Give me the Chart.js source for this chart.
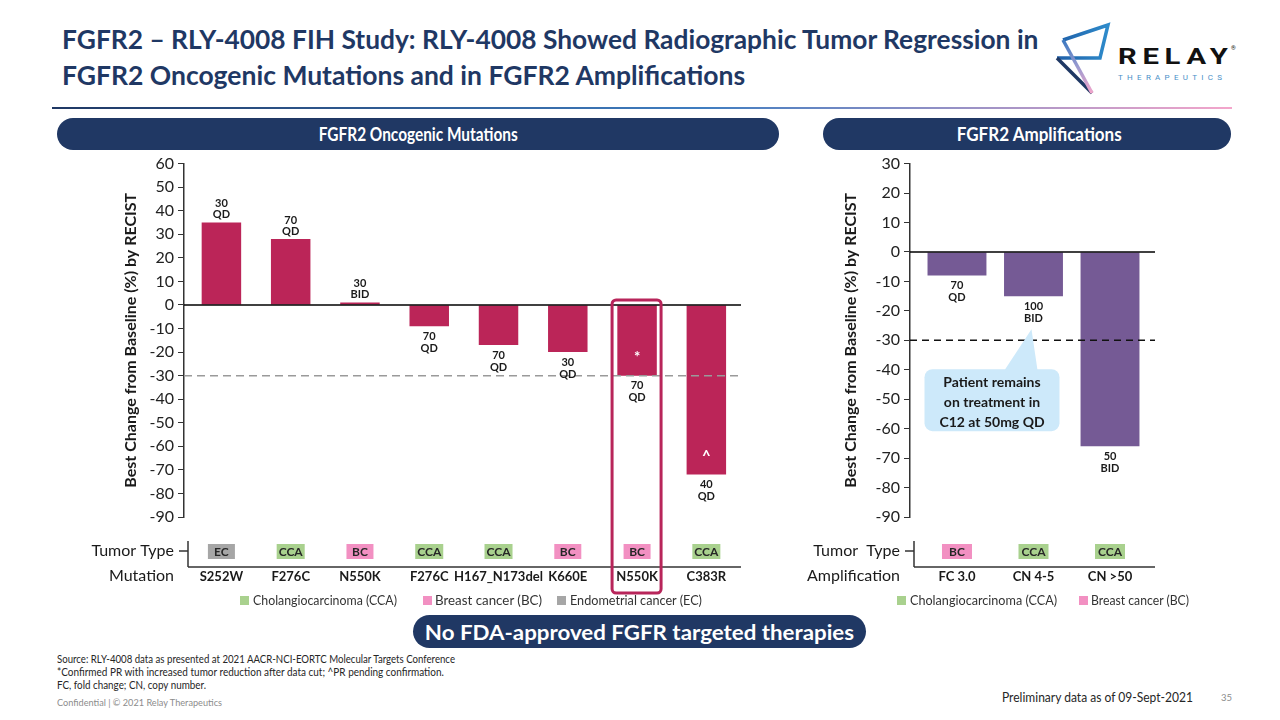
<!DOCTYPE html>
<html>
<head>
<meta charset="utf-8">
<script src="https://cdn.jsdelivr.net/npm/chart.js@4.4.1/dist/chart.umd.min.js"></script>
<style>
  body { margin: 0; width: 1280px; height: 720px; position: relative; overflow: hidden; background: #fff; font-family: Lato, "Open Sans", sans-serif; }
  .t { position: absolute; white-space: nowrap; transform-origin: 0 50%; }
  .title { left: 62px; font-size: 27px; font-weight: 700; color: #1F3864; }
  .pill { position: absolute; background: #203864; border-radius: 17px; color: #fff; font-weight: 700; display: flex; align-items: center; justify-content: center; }
  .pill span { display: inline-block; white-space: nowrap; transform-origin: 50% 50%; }
  .sq { position: absolute; width: 9px; height: 9px; }
  .leg { font-size: 14px; color: #333; }
  .src { left: 57px; font-size: 10.5px; color: #262626; }
  canvas { position: absolute; }
</style>
</head>
<body>
<div class="t title" style="top:22px" data-w="976">FGFR2 – RLY-4008 FIH Study: RLY-4008 Showed Radiographic Tumor Regression in</div>
<div class="t title" style="top:58px" data-w="683">FGFR2 Oncogenic Mutations and in FGFR2 Amplifications</div>

<svg style="position:absolute;left:0;top:0" width="1280" height="110">
  <defs>
    <linearGradient id="gb" x1="0" y1="0" x2="1" y2="0"><stop offset="0" stop-color="#1F5FA8"/><stop offset="1" stop-color="#2E8BCB"/></linearGradient>
    <linearGradient id="gp" x1="0" y1="0" x2="0" y2="1"><stop offset="0" stop-color="#3A78C0"/><stop offset="0.5" stop-color="#9A9AD0"/><stop offset="1" stop-color="#F3A5CB"/></linearGradient>
    <linearGradient id="gl" x1="0" y1="0" x2="1" y2="0"><stop offset="0" stop-color="#1F3864"/><stop offset="0.55" stop-color="#3F7DC0"/><stop offset="1" stop-color="#F4A6CB"/></linearGradient>
  </defs>
  <polyline points="1063,40 1108,25 1100,58 1057,58" fill="none" stroke="url(#gb)" stroke-width="3.5" stroke-linejoin="miter"/>
  <line x1="1057" y1="58" x2="1092" y2="93" stroke="#1F3864" stroke-width="3.5"/>
  <line x1="1063" y1="40" x2="1092" y2="93" stroke="url(#gp)" stroke-width="3.5"/>
  <text transform="translate(1118,63.5) scale(1.3,1)" font-family="Roboto" font-weight="700" font-size="22.5" textLength="84.6" lengthAdjust="spacing" fill="#111">RELAY</text>
  <text x="1231" y="50" font-family="Roboto" font-size="6" fill="#111">®</text>
  <text x="1118" y="80" font-family="Roboto" font-size="8" textLength="104" lengthAdjust="spacing" fill="#4A90C8">THERAPEUTICS</text>
  <rect x="52" y="107" width="1180" height="2" fill="url(#gl)"/>
</svg>

<div class="pill" style="left:57px;top:118px;width:722px;height:32px;font-size:18px"><span data-w="199">FGFR2 Oncogenic Mutations</span></div>
<div class="pill" style="left:823px;top:118px;width:408px;height:32px;font-size:18px"><span data-w="165" style="margin-left:24px">FGFR2 Amplifications</span></div>
<div class="pill" style="left:413px;top:615px;width:453px;height:33px;font-size:20px"><span data-w="429">No FDA-approved FGFR targeted therapies</span></div>

<canvas id="mutChart" width="780" height="450" style="left:0;top:150px"></canvas>
<canvas id="ampChart" width="480" height="450" style="left:780px;top:150px"></canvas>

<div class="sq" style="left:240px;top:596px;background:#A9D18E"></div>
<div class="t leg" style="left:253px;top:591px" data-w="144">Cholangiocarcinoma (CCA)</div>
<div class="sq" style="left:423px;top:596px;background:#F290C2"></div>
<div class="t leg" style="left:435px;top:591px" data-w="107">Breast cancer (BC)</div>
<div class="sq" style="left:557px;top:596px;background:#A6A6A6"></div>
<div class="t leg" style="left:570px;top:591px" data-w="132">Endometrial cancer (EC)</div>

<div class="sq" style="left:897px;top:596px;background:#A9D18E"></div>
<div class="t leg" style="left:910px;top:591px" data-w="147">Cholangiocarcinoma (CCA)</div>
<div class="sq" style="left:1079px;top:596px;background:#F290C2"></div>
<div class="t leg" style="left:1091px;top:591px" data-w="98">Breast cancer (BC)</div>

<div class="t src" style="top:653px" data-w="398">Source: RLY-4008 data as presented at 2021 AACR-NCI-EORTC Molecular Targets Conference</div>
<div class="t src" style="top:666px" data-w="387">*Confirmed PR with increased tumor reduction after data cut; ^PR pending confirmation.</div>
<div class="t src" style="top:679px" data-w="149">FC, fold change; CN, copy number.</div>
<div class="t" style="left:57px;top:697px;font-size:9.5px;color:#8C8C8C" data-w="165">Confidential | © 2021 Relay Therapeutics</div>
<div class="t" style="left:1002px;top:689px;font-size:13px;color:#262626" data-w="191">Preliminary data as of 09-Sept-2021</div>
<div class="t" style="left:1221px;top:692px;font-size:9.5px;color:#8C8C8C">35</div>

<script>
// FGFR2 oncogenic mutations
const mutations = ['S252W', 'F276C', 'N550K', 'F276C', 'H167_N173del', 'K660E', 'N550K', 'C383R'];
const mutChange = [35, 28, 1, -9, -17, -20, -30, -72];
const mutDose = ['30', '70', '30', '70', '70', '30', '70', '40'];
const mutSchedule = ['QD', 'QD', 'BID', 'QD', 'QD', 'QD', 'QD', 'QD'];
const mutTumor = ['EC', 'CCA', 'BC', 'CCA', 'CCA', 'BC', 'BC', 'CCA'];
const mutMarks = ['', '', '', '', '', '', '*', '^'];
const mutHighlight = 6;
const mutYRange = [-90, 60];

// FGFR2 amplifications
const amplifications = ['FC 3.0', 'CN 4-5', 'CN >50'];
const ampChange = [-8, -15, -66];
const ampDose = ['70', '100', '50'];
const ampSchedule = ['QD', 'BID', 'BID'];
const ampTumor = ['BC', 'CCA', 'CCA'];
const ampYRange = [-90, 30];

const responseThreshold = -30;
const tumorColors = { CCA: '#A9D18E', BC: '#F290C2', EC: '#A6A6A6' };

function line(ctx, x1, y1, x2, y2) {
  ctx.beginPath(); ctx.moveTo(x1, y1); ctx.lineTo(x2, y2); ctx.stroke();
}

function slideMarks(o) {
  return {
    id: 'slideMarks',
    afterDatasetsDraw(chart) {
      const { ctx, chartArea: a, scales: { x, y } } = chart;
      const bars = chart.getDatasetMeta(0).data;
      const y0 = y.getPixelForValue(0);
      ctx.save();

      // zero line + -30% threshold
      ctx.strokeStyle = '#000'; ctx.lineWidth = 1.5;
      line(ctx, a.left, y0, a.right, y0);
      const yt = y.getPixelForValue(responseThreshold);
      ctx.setLineDash(o.dash); ctx.strokeStyle = o.dashColor;
      line(ctx, a.left, yt, a.right, yt);
      ctx.setLineDash([]);

      // dose labels
      ctx.fillStyle = '#1a1a1a'; ctx.font = 'bold 11px Lato';
      ctx.textAlign = 'center'; ctx.textBaseline = 'middle';
      bars.forEach((bar, i) => {
        if (o.values[i] >= 0) {
          ctx.fillText(o.dose[i], bar.x, bar.y - 19);
          ctx.fillText(o.schedule[i], bar.x, bar.y - 8);
        } else {
          ctx.fillText(o.dose[i], bar.x, bar.y + 10);
          ctx.fillText(o.schedule[i], bar.x, bar.y + 22);
        }
      });

      // * and ^ inside bars
      ctx.fillStyle = '#fff'; ctx.font = 'bold 15px Lato';
      (o.marks || []).forEach((m, i) => { if (m) ctx.fillText(m, bars[i].x, bars[i].y - 18); });

      // tumor type row
      const rowY = a.bottom + 34, axisY = a.bottom + 50, vx = a.left + 4;
      ctx.strokeStyle = '#333'; ctx.lineWidth = 1.5;
      line(ctx, vx, a.bottom + 24, vx, axisY);
      line(ctx, vx, axisY, a.right, axisY);
      line(ctx, vx - 9, rowY, vx, rowY);
      ctx.fillStyle = '#1a1a1a'; ctx.font = '16px Lato'; ctx.textAlign = 'right';
      ctx.fillText(o.rowTitle, vx - 14, rowY);
      ctx.fillText(o.axisTitle, vx - 14, axisY + 9);
      ctx.font = 'bold 12px Lato'; ctx.textAlign = 'center';
      o.tumor.forEach((t, i) => {
        const cx = x.getPixelForValue(i);
        const w = Math.max(o.boxW, ctx.measureText(t).width + 4);
        ctx.fillStyle = tumorColors[t];
        ctx.fillRect(cx - w / 2, rowY - 7, w, 15);
        ctx.fillStyle = '#262626';
        ctx.fillText(t, cx, rowY + 1);
      });

      // highlighted patient
      if (o.highlight != null) {
        const cx = x.getPixelForValue(o.highlight);
        ctx.strokeStyle = '#B8255A'; ctx.lineWidth = 3;
        ctx.beginPath();
        ctx.roundRect(cx - 25, y0 - 5, 49, a.bottom + 76 - (y0 - 5), 4);
        ctx.stroke();
      }

      // callout bubble
      if (o.callout) {
        const c = o.callout, bx = bars[c.index].x;
        const tipX = bx - 2, tipY = bars[c.index].y + 33;
        const L = bx - 109, R = bx + 26, T = tipY + 40, B = tipY + 102;
        ctx.fillStyle = '#CDE9FA';
        ctx.beginPath(); ctx.roundRect(L, T, R - L, B - T, 8); ctx.fill();
        ctx.beginPath(); ctx.moveTo(bx - 29, T + 1); ctx.lineTo(tipX, tipY); ctx.lineTo(bx + 4, T + 1); ctx.closePath(); ctx.fill();
        ctx.fillStyle = '#1a1a1a'; ctx.font = 'bold 14px Lato';
        c.lines.forEach((s, k) => ctx.fillText(s, (L + R) / 2, T + 13 + k * 20));
      }
      ctx.restore();
    }
  };
}

function makeChart(id, o) {
  return new Chart(document.getElementById(id), {
    type: 'bar',
    data: {
      datasets: [{
        data: o.values.map((v, i) => ({ x: i, y: v })),
        backgroundColor: o.color,
        barPercentage: o.barPct,
        categoryPercentage: 1
      }]
    },
    options: {
      responsive: false,
      animation: false,
      layout: { padding: { top: 13, right: o.padRight, bottom: 0, left: 0 } },
      plugins: { legend: { display: false }, tooltip: { enabled: false } },
      scales: {
        x: {
          type: 'linear', min: o.xMin, max: o.xMax, offset: false,
          grid: { display: false, drawTicks: false },
          border: { display: false },
          afterBuildTicks: s => { s.ticks = o.labels.map((_, i) => ({ value: i })); },
          afterFit: s => { s.height = 83; },
          ticks: {
            autoSkip: false, maxRotation: 0, padding: 52, color: '#1a1a1a',
            font: { family: 'Lato', size: 13, weight: 'bold' },
            callback: v => o.labels[v]
          }
        },
        y: {
          min: o.yRange[0], max: o.yRange[1],
          ticks: { stepSize: 10, padding: 4, color: '#222', font: { family: 'Lato', size: 16 } },
          grid: { drawOnChartArea: false, tickLength: 6, color: '#333' },
          border: { color: '#333', width: 1.5 },
          title: {
            display: true, text: 'Best Change from Baseline (%) by RECIST', color: '#1a1a1a',
            font: { family: 'Lato', size: 16, weight: 'bold' }, padding: { top: o.titlePad }
          },
          afterFit: s => { s.width = o.axisW; }
        }
      }
    },
    plugins: [slideMarks(o)]
  });
}

makeChart('mutChart', {
  labels: mutations, values: mutChange, dose: mutDose, schedule: mutSchedule,
  tumor: mutTumor, marks: mutMarks, highlight: mutHighlight, yRange: mutYRange,
  color: '#BB2558', barPct: 0.57, xMin: -0.54, xMax: 7.5, padRight: 30, axisW: 184, titlePad: 121,
  dash: [8, 5], dashColor: '#9A9A9A', rowTitle: 'Tumor Type', axisTitle: 'Mutation', boxW: 27
});

makeChart('ampChart', {
  labels: amplifications, values: ampChange, dose: ampDose, schedule: ampSchedule,
  tumor: ampTumor, yRange: ampYRange,
  color: '#755A95', barPct: 0.77, xMin: -0.614, xMax: 2.588, padRight: 105, axisW: 130, titlePad: 61,
  dash: [7, 5], dashColor: '#111', rowTitle: 'Tumor  Type', axisTitle: 'Amplification', boxW: 30,
  callout: { index: 1, lines: ['Patient remains', 'on treatment in', 'C12 at 50mg QD'] }
});

// squeeze html text to the widths of the slide
document.querySelectorAll('[data-w]').forEach(el => {
  const w = el.getBoundingClientRect().width;
  el.style.transform = 'scaleX(' + (Number(el.dataset.w) / w).toFixed(3) + ')';
});
</script>
</body>
</html>
